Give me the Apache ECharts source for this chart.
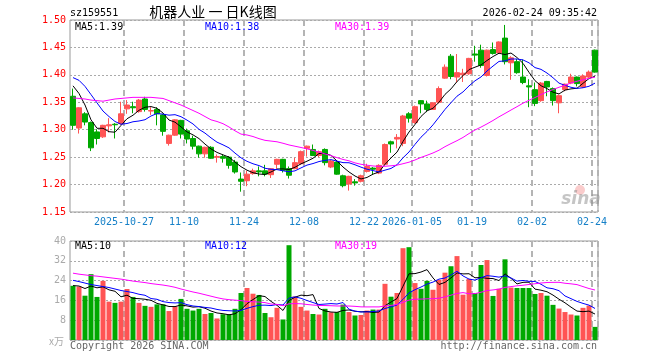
<!DOCTYPE html>
<html><head><meta charset="utf-8">
<script src="https://cdn.jsdelivr.net/npm/echarts/dist/echarts.min.js"></script>
<style>html,body{margin:0;padding:0;background:#fff}#c{width:660px;height:360px}</style>
</head><body><div id="c"></div>
<script>
// ---- data ----
const dates = ['2025-10-14','2025-10-15','2025-10-16','2025-10-17','2025-10-20','2025-10-21','2025-10-22','2025-10-23','2025-10-24','2025-10-27',
'2025-10-28','2025-10-29','2025-10-30','2025-10-31','2025-11-03','2025-11-04','2025-11-05','2025-11-06','2025-11-07','2025-11-10',
'2025-11-11','2025-11-12','2025-11-13','2025-11-14','2025-11-17','2025-11-18','2025-11-19','2025-11-20','2025-11-21','2025-11-24',
'2025-11-25','2025-11-26','2025-11-27','2025-11-28','2025-12-01','2025-12-02','2025-12-03','2025-12-04','2025-12-05','2025-12-08',
'2025-12-09','2025-12-10','2025-12-11','2025-12-12','2025-12-15','2025-12-16','2025-12-17','2025-12-18','2025-12-19','2025-12-22',
'2025-12-23','2025-12-24','2025-12-25','2025-12-26','2025-12-29','2025-12-30','2025-12-31','2026-01-05','2026-01-06','2026-01-07',
'2026-01-08','2026-01-09','2026-01-12','2026-01-13','2026-01-14','2026-01-15','2026-01-16','2026-01-19','2026-01-20','2026-01-21',
'2026-01-22','2026-01-23','2026-01-26','2026-01-27','2026-01-28','2026-01-29','2026-01-30','2026-02-02','2026-02-03','2026-02-04',
'2026-02-05','2026-02-06','2026-02-09','2026-02-10','2026-02-11','2026-02-12','2026-02-13','2026-02-24'];

const opens = [1.361,1.303,1.329,1.313,1.296,1.287,1.307,1.310,1.311,1.338,
1.342,1.333,1.356,1.334,1.337,1.327,1.275,1.290,1.317,1.298,
1.284,1.270,1.256,1.268,1.250,1.251,1.250,1.241,1.210,1.207,
1.220,1.225,1.225,1.218,1.237,1.246,1.229,1.229,1.238,1.266,
1.264,1.253,1.264,1.232,1.241,1.216,1.201,1.205,1.206,1.224,
1.230,1.221,1.237,1.278,1.283,1.275,1.329,1.313,1.353,1.347,
1.337,1.350,1.394,1.434,1.396,1.400,1.402,1.438,1.445,1.399,
1.446,1.440,1.467,1.422,1.424,1.396,1.380,1.373,1.353,1.388,
1.375,1.349,1.373,1.385,1.396,1.378,1.396,1.445];
const closes = [1.308,1.340,1.314,1.267,1.284,1.308,1.309,1.309,1.329,1.345,
1.340,1.354,1.337,1.335,1.329,1.297,1.290,1.318,1.292,1.283,
1.270,1.256,1.268,1.248,1.251,1.248,1.235,1.223,1.206,1.219,
1.225,1.223,1.219,1.229,1.246,1.226,1.217,1.240,1.260,1.270,
1.253,1.260,1.240,1.243,1.219,1.198,1.215,1.203,1.216,1.233,
1.228,1.235,1.273,1.274,1.286,1.325,1.321,1.342,1.347,1.337,
1.349,1.375,1.414,1.397,1.404,1.403,1.430,1.436,1.417,1.445,
1.439,1.460,1.424,1.431,1.404,1.386,1.378,1.348,1.385,1.378,
1.353,1.362,1.383,1.396,1.384,1.398,1.405,1.405];
const highs = [1.375,1.341,1.332,1.315,1.301,1.309,1.321,1.312,1.351,1.354,
1.351,1.356,1.360,1.341,1.341,1.329,1.291,1.319,1.318,1.302,
1.289,1.271,1.269,1.270,1.255,1.255,1.252,1.245,1.222,1.225,
1.229,1.233,1.236,1.230,1.247,1.247,1.233,1.249,1.262,1.271,
1.273,1.262,1.266,1.245,1.243,1.218,1.216,1.210,1.218,1.238,
1.232,1.237,1.275,1.280,1.292,1.327,1.332,1.344,1.354,1.353,
1.350,1.379,1.419,1.438,1.438,1.411,1.431,1.453,1.455,1.446,
1.459,1.461,1.491,1.434,1.429,1.428,1.392,1.386,1.387,1.389,
1.377,1.364,1.384,1.402,1.397,1.401,1.408,1.446];
const lows = [1.300,1.293,1.308,1.261,1.273,1.285,1.295,1.284,1.309,1.329,
1.330,1.331,1.333,1.327,1.308,1.289,1.271,1.289,1.284,1.275,
1.264,1.249,1.249,1.247,1.240,1.240,1.229,1.220,1.187,1.197,
1.218,1.215,1.215,1.212,1.229,1.222,1.211,1.228,1.236,1.251,
1.252,1.250,1.235,1.230,1.218,1.195,1.189,1.198,1.204,1.222,
1.218,1.219,1.235,1.258,1.266,1.270,1.313,1.311,1.330,1.332,
1.336,1.348,1.393,1.392,1.386,1.387,1.400,1.424,1.413,1.397,
1.437,1.438,1.419,1.391,1.402,1.383,1.341,1.343,1.351,1.361,
1.344,1.330,1.370,1.383,1.379,1.376,1.394,1.404];
// volume, 10k units
const volumes = [21.9,21.6,17.9,26.6,17.4,23.9,15.5,15.0,15.5,20.6,
17.4,15.0,13.8,13.4,14.4,14.4,11.7,13.6,16.6,12.6,
11.9,12.6,10.5,10.9,8.7,10.4,10.4,12.6,19.0,21.0,
18.7,18.2,10.9,9.2,13.0,8.3,38.3,17.6,13.4,11.9,
10.5,10.3,12.6,11.2,11.3,14.3,11.3,9.9,10.1,11.9,
12.3,12.3,22.7,17.5,19.0,37.1,37.5,23.0,20.7,23.9,
20.3,24.3,27.2,29.8,33.9,18.3,24.7,19.0,30.3,32.3,
17.8,20.7,32.6,21.2,21.0,21.0,21.0,18.6,19.0,17.9,
14.2,12.7,11.3,10.3,9.9,13.0,13.9,5.3];
// moving-average values for the first days (history before the window)
const ma5PriceLead = [1.380,1.366,1.345,1.318];
const ma10PriceLead = [1.395,1.390,1.379,1.364,1.349,1.334,1.324,1.315,1.310];
const ma30PriceLead = [1.358,1.357,1.356,1.354,1.353,1.352,1.354,1.356,1.357,1.358,
1.359,1.359,1.359,1.359,1.358,1.357,1.353,1.349,1.345,1.340,
1.335,1.330,1.324,1.318,1.315,1.311,1.305,1.298,1.292];
const ma5VolLead = [22.0,21.8,20.8,21.8];
const ma10VolLead = [24.1,23.6,23.0,22.4,22.0,21.6,21.2,20.6,20.0];
const ma30VolLead = [27.0,26.6,26.3,26.0,25.8,25.5,25.2,24.9,24.6,24.2,
23.8,23.5,23.2,22.8,22.5,22.2,21.8,21.3,20.6,20.0,
19.4,18.9,18.3,17.7,17.1,16.6,16.3,16.1,15.9];
const tickDates = ['2025-10-27','2025-11-10','2025-11-24','2025-12-08','2025-12-22','2026-01-05','2026-01-19','2026-02-02','2026-02-24'];
const tickLabels = ['2025-10-27','11-10','11-24','12-08','12-22','2026-01-05','01-19','02-02','02-24'];
const priceMaLabels = ['MA5:1.39','MA10:1.38','MA30:1.39'];
const volMaLabels = ['MA5:10','MA10:12','MA30:19'];
const symbolText = 'sz159551';
const titleText = '机器人业 一 日K线图';
const timeText = '2026-02-24 09:35:42';

// ---- chart ----
const RED = '#ff5454', GREEN = '#00a800';
const MONO = '"DejaVu Sans Mono", "Liberation Mono", monospace';
function movingAvg(src, n, lead, dp) {
  return src.map((v, i) => {
    if (i < n - 1) return lead[i];
    let s = 0; for (let k = i - n + 1; k <= i; k++) s += src[k];
    return +(s / n).toFixed(dp);
  });
}
const candle = dates.map((d, i) => [opens[i], closes[i], lows[i], highs[i]]);
const volBars = volumes.map((v, i) => ({ value: v, itemStyle: { color: closes[i] >= opens[i] ? RED : GREEN } }));
const markIdx = tickDates.map(d => dates.indexOf(d));
const isMark = (i) => markIdx.indexOf(i) >= 0;

function xAxis(gi, showLabel) {
  return {
    type: 'category', data: dates, gridIndex: gi, boundaryGap: true,
    axisLine: { show: false }, axisTick: { show: false },
    axisLabel: {
      show: showLabel, interval: (i) => isMark(i),
      formatter: (v) => { const k = tickDates.indexOf(v); return k >= 0 ? tickLabels[k] : ''; },
      color: '#1680c8', fontFamily: MONO, fontSize: 10, margin: 5, padding: [0, 6, 0, 0]
    },
    splitLine: { show: true, interval: (i) => isMark(i), lineStyle: { color: '#b4b4b4', width: 2, type: [6, 4] } }
  };
}
function maLine(name, data, color, xi) {
  return { name, type: 'line', data, xAxisIndex: xi, yAxisIndex: xi, showSymbol: false, symbol: 'none',
    lineStyle: { color, width: 1 }, itemStyle: { color }, z: 3, silent: true };
}
function txt(x, y, text, fill, font, align) {
  return { type: 'text', x, y, silent: true, z: 100,
    style: { text, fill, font, textAlign: align || 'left', align: align || 'left', textVerticalAlign: 'middle', verticalAlign: 'middle' } };
}

const chart = echarts.init(document.getElementById('c'), null, { renderer: 'canvas' });
chart.setOption({
  animation: false,
  backgroundColor: '#fff',
  grid: [
    { left: 70, top: 20, width: 528, height: 192, show: true, borderColor: '#999', borderWidth: 1 },
    { left: 70, top: 241, width: 528, height: 99, show: true, borderColor: '#999', borderWidth: 1 }
  ],
  xAxis: [xAxis(0, true), xAxis(1, false)],
  yAxis: [
    { gridIndex: 0, min: 1.15, max: 1.50, interval: 0.05, axisLine: { show: false }, axisTick: { show: false },
      axisLabel: { color: '#ff0000', fontFamily: MONO, fontSize: 10, margin: 4, formatter: (v) => v.toFixed(2) },
      splitLine: { lineStyle: { color: '#aaa', type: [2, 2], width: 1 } } },
    { gridIndex: 1, min: 0, max: 40, interval: 8, axisLine: { show: false }, axisTick: { show: false },
      axisLabel: { color: '#aaa', fontFamily: MONO, fontSize: 10, margin: 4, formatter: (v) => v === 0 ? '' : String(v) },
      splitLine: { lineStyle: { color: '#aaa', type: [2, 2], width: 1 } } }
  ],
  series: [
    { type: 'candlestick', data: candle, xAxisIndex: 0, yAxisIndex: 0, barWidth: 5,
      itemStyle: { color: RED, color0: GREEN, borderColor: RED, borderColor0: GREEN, borderWidth: 1 }, z: 2 },
    maLine('MA5', movingAvg(closes, 5, ma5PriceLead, 4), '#000000', 0),
    maLine('MA10', movingAvg(closes, 10, ma10PriceLead, 4), '#0000ff', 0),
    maLine('MA30', movingAvg(closes, 30, ma30PriceLead, 4), '#ff00ff', 0),
    { type: 'bar', data: volBars, xAxisIndex: 1, yAxisIndex: 1, barWidth: 5, z: 2 },
    maLine('VMA5', movingAvg(volumes, 5, ma5VolLead, 2), '#000000', 1),
    maLine('VMA10', movingAvg(volumes, 10, ma10VolLead, 2), '#0000ff', 1),
    maLine('VMA30', movingAvg(volumes, 30, ma30VolLead, 2), '#ff00ff', 1)
  ],
  graphic: [
    txt(70, 13, symbolText, '#000', '10px ' + MONO),
    txt(213, 12, titleText, '#000', '14px "Noto Sans CJK SC"', 'center'),
    txt(597, 13, timeText, '#000', '10px ' + MONO, 'right'),
    txt(75, 27, priceMaLabels[0], '#000', '10px ' + MONO),
    txt(205, 27, priceMaLabels[1], '#0000ff', '10px ' + MONO),
    txt(335, 27, priceMaLabels[2], '#ff00ff', '10px ' + MONO),
    txt(75, 246, volMaLabels[0], '#000', '10px ' + MONO),
    txt(205, 246, volMaLabels[1], '#0000ff', '10px ' + MONO),
    txt(335, 246, volMaLabels[2], '#ff00ff', '10px ' + MONO),
    txt(64, 341, 'x万', '#aaa', '10px "Noto Sans CJK SC"', 'right'),
    txt(70, 346, 'Copyright 2026 SINA.COM', '#666', '10px ' + MONO),
    txt(597, 346, 'http://finance.sina.com.cn', '#666', '10px ' + MONO, 'right'),
    { type: 'circle', shape: { cx: 580, cy: 190, r: 5 }, silent: true, z: 1, style: { fill: 'rgba(240,110,110,0.35)' } },
    txt(581, 200, 'sina', 'rgba(140,140,140,0.5)', 'italic bold 17px "DejaVu Sans"', 'center')
  ]
});
</script></body></html>
